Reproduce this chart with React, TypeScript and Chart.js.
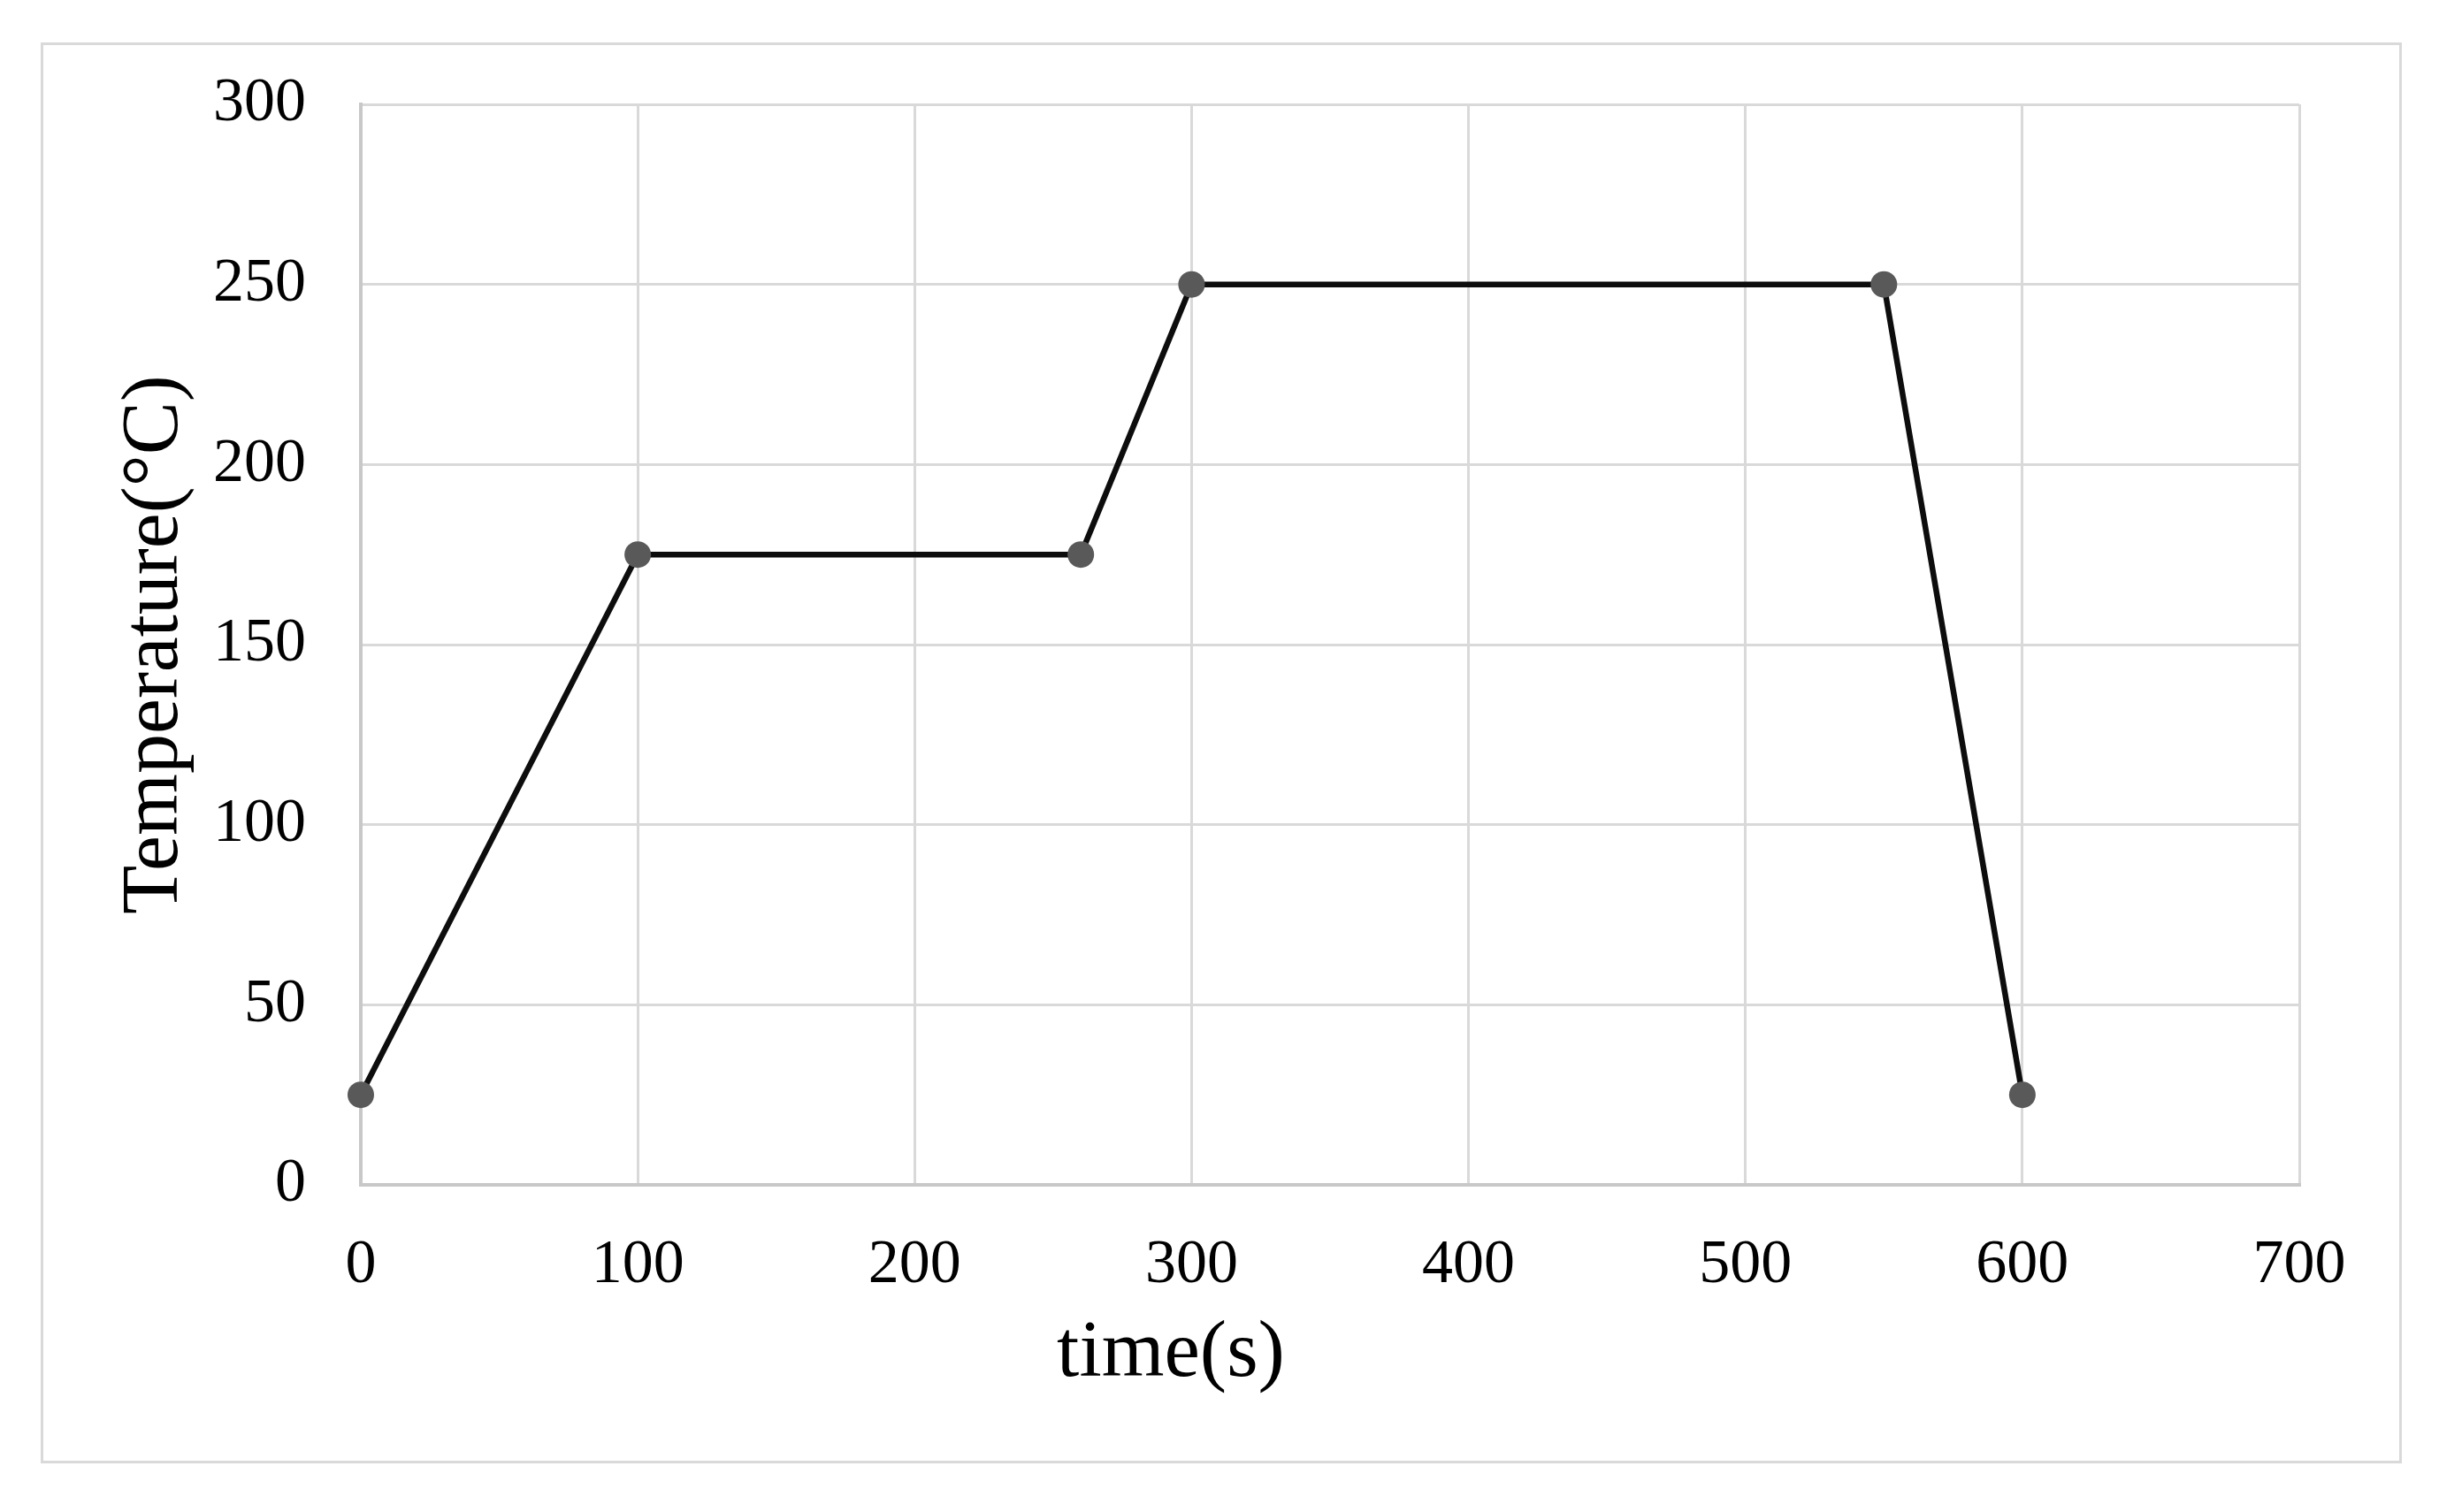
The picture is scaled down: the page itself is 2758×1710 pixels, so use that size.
import React, { useEffect, useRef } from "react";
import { Chart, registerables } from "chart.js";

Chart.register(...registerables);

const timeValues = [0, 100, 260, 300, 550, 600];
const temperatureValues = [25, 175, 175, 250, 250, 25];
const xTicks = [0, 100, 200, 300, 400, 500, 600, 700];
const yTicks = [0, 50, 100, 150, 200, 250, 300];
const xTitle = "time(s)";
const yTitle = "Temperature(°C)";

const W = 2758;
const H = 1710;
const FONT = "'Liberation Serif', 'Times New Roman', serif";

const framePlugin = {
  id: "frame",
  beforeDraw(chart: any) {
    const ctx = chart.ctx;
    ctx.save();
    ctx.fillStyle = "#ffffff";
    ctx.fillRect(0, 0, chart.width, chart.height);
    ctx.strokeStyle = "#d9d9d9";
    ctx.lineWidth = 3;
    ctx.strokeRect(47.5, 49.5, 2667, 1604);
    ctx.restore();
  },
  afterDraw(chart: any) {
    const ctx = chart.ctx;
    const area = chart.chartArea;
    ctx.save();
    ctx.fillStyle = "#000";
    ctx.font = `91px ${FONT}`;
    ctx.textAlign = "center";
    ctx.textBaseline = "middle";
    ctx.fillText(xTitle, (area.left + area.right) / 2 - 180, 1532);
    ctx.restore();
  },
};

export default function App() {
  const ref = useRef<HTMLCanvasElement | null>(null);

  useEffect(() => {
    document.body.style.margin = "0";
    const canvas = ref.current;
    if (!canvas) return;
    const chart = new Chart(canvas, {
      type: "line",
      data: {
        datasets: [
          {
            data: timeValues.map((t, i) => ({ x: t, y: temperatureValues[i] })),
            borderColor: "#0d0d0d",
            borderWidth: 6.5,
            pointRadius: 15,
            pointBorderWidth: 0,
            pointBackgroundColor: "#595959",
            pointBorderColor: "#595959",
            tension: 0,
            fill: false,
            clip: false,
          },
        ],
      },
      options: {
        responsive: false,
        animation: false,
        devicePixelRatio: 1,
        layout: { padding: { top: 118, right: 158, left: 0, bottom: 0 } },
        plugins: {
          legend: { display: false },
          tooltip: { enabled: false },
        },
        scales: {
          x: {
            type: "linear",
            min: 0,
            max: 700,
            afterBuildTicks: (s: any) => {
              s.ticks = xTicks.map((v) => ({ value: v }));
            },
            afterFit: (s: any) => {
              s.height = 370;
            },
            grid: { color: "#d9d9d9", lineWidth: 3, drawTicks: false },
            border: { color: "#c8c8c8", width: 4 },
            ticks: {
              color: "#000",
              padding: 50,
              font: { family: FONT, size: 70 },
            },
          },
          y: {
            type: "linear",
            min: 0,
            max: 300,
            afterBuildTicks: (s: any) => {
              s.ticks = yTicks.map((v) => ({ value: v }));
            },
            afterFit: (s: any) => {
              s.width = 408;
            },
            grid: { color: "#d9d9d9", lineWidth: 3, drawTicks: false },
            border: { color: "#c8c8c8", width: 4 },
            ticks: {
              color: "#000",
              padding: 62,
              font: { family: FONT, size: 70 },
            },
            title: {
              display: true,
              text: yTitle,
              color: "#000",
              font: { family: FONT, size: 90 },
              padding: { top: 122, bottom: 0 },
            },
          },
        },
      },
      plugins: [framePlugin],
    });
    return () => chart.destroy();
  }, []);

  return (
    <div style={{ position: "fixed", left: 0, top: 0, width: W, height: H }}>
      <canvas ref={ref} width={W} height={H} style={{ width: W, height: H, display: "block" }} />
    </div>
  );
}
